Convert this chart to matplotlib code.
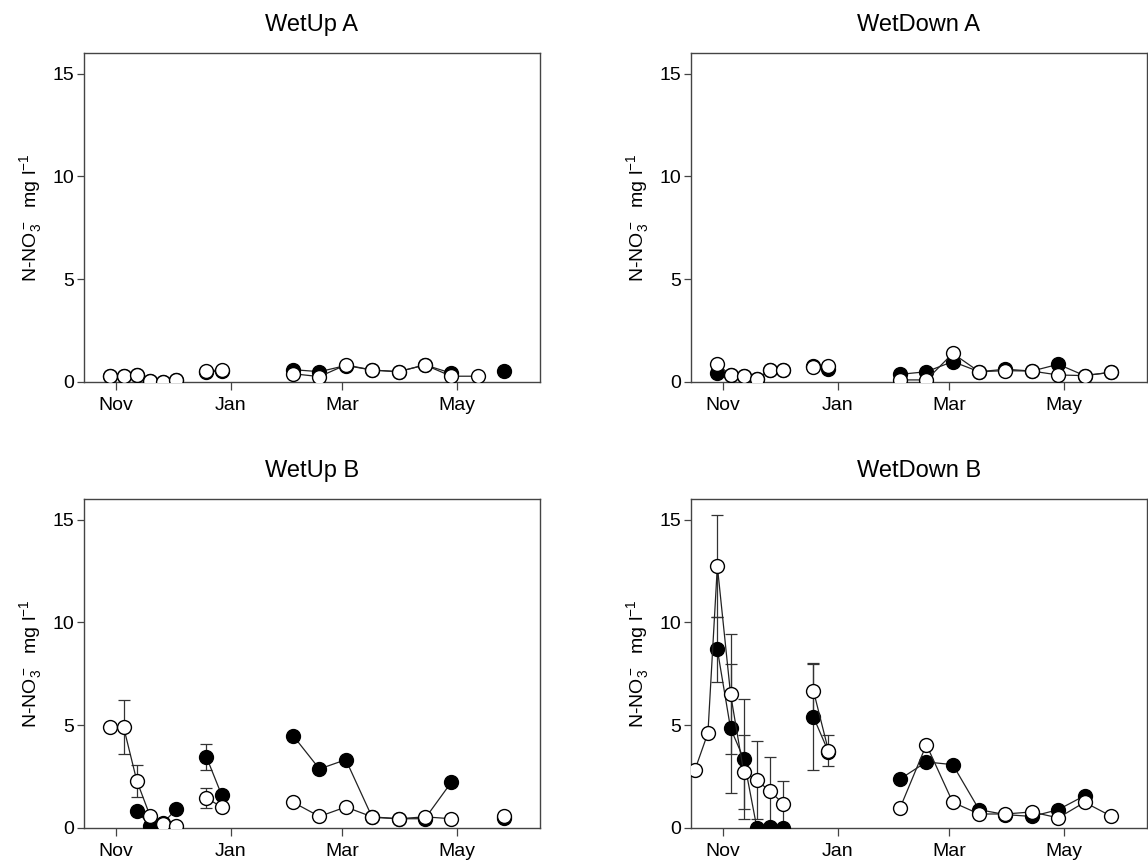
import matplotlib
matplotlib.use('Agg')
import matplotlib.pyplot as plt
import matplotlib.dates as mdates
import numpy as np

plt.rcParams['font.family'] = ['Liberation Sans', 'DejaVu Sans']
plt.rcParams['mathtext.default'] = 'regular'

# sampling dates (shared by all four sites) and the period each belongs to
dates = ['2010-10-17', '2010-10-24', '2010-10-29', '2010-11-05', '2010-11-12',
         '2010-11-19', '2010-11-26', '2010-12-03', '2010-12-19', '2010-12-27',
         '2011-02-03', '2011-02-17', '2011-03-03', '2011-03-17', '2011-03-31',
         '2011-04-14', '2011-04-28', '2011-05-12', '2011-05-26']
period = [0, 0, 0, 0, 0, 0, 0, 0, 1, 1, 2, 2, 2, 2, 2, 2, 2, 2, 2]

titles = ['WetUp A', 'WetDown A', 'WetUp B', 'WetDown B']

N = None
wetup_a_filled = [N, N, 0.30, 0.30, 0.32, 0.05, 0.02, 0.10, 0.50, 0.52,
                  0.60, 0.50, 0.80, 0.58, 0.50, 0.83, 0.43, N, 0.54]
wetup_a_open = [N, N, 0.31, 0.31, 0.34, 0.05, 0.01, 0.10, 0.55, 0.58,
                0.40, 0.26, 0.83, 0.58, 0.50, 0.83, 0.28, 0.28, N]

wetdown_a_filled = [N, N, 0.42, 0.34, 0.31, 0.13, 0.58, 0.58, 0.80, 0.62,
                    0.37, 0.50, 0.99, 0.50, 0.62, 0.53, 0.86, 0.31, 0.47]
wetdown_a_open = [N, N, 0.86, 0.34, 0.31, 0.13, 0.58, 0.58, 0.75, 0.78,
                  0.10, 0.10, 1.39, 0.50, 0.55, 0.53, 0.34, 0.31, 0.47]

wetup_b_filled = [N, N, N, N, 0.84, 0.11, 0.24, 0.92, 3.45, 1.62,
                  4.49, 2.87, 3.32, 0.52, 0.45, 0.45, 2.22, N, 0.47]
wetup_b_filled_err = [N, N, N, N, N, N, N, N, 0.65, N,
                      N, N, N, N, N, N, N, N, N]
wetup_b_open = [N, N, 4.91, 4.91, 2.30, 0.60, 0.19, 0.08, 1.46, 1.02,
                1.25, 0.56, 1.02, 0.54, 0.45, 0.54, 0.45, N, 0.56]
wetup_b_open_err = [N, N, N, 1.30, 0.77, N, N, N, 0.47, N,
                    N, N, N, N, N, N, N, N, N]

wetdown_b_filled = [N, N, 8.68, 4.85, 3.36, 0.00, 0.05, 0.00, 5.40, 3.70,
                    2.38, 3.21, 3.08, 0.89, 0.65, 0.56, 0.89, 1.57, N]
wetdown_b_filled_err = [N, N, 1.60, 3.13, 2.90, N, N, N, 2.60, N,
                        N, N, N, N, N, N, N, N, N]
wetdown_b_open = [2.80, 4.62, 12.73, 6.52, 2.71, 2.32, 1.78, 1.18, 6.68, 3.76,
                  0.97, 4.05, 1.25, 0.68, 0.68, 0.78, 0.49, 1.25, 0.58]
wetdown_b_open_err = [N, N, 2.47, 2.93, 1.80, 1.90, 1.67, 1.09, 1.30, 0.74,
                      N, N, N, N, N, N, N, N, N]

panels = [
    (wetup_a_filled, None, wetup_a_open, None),
    (wetdown_a_filled, None, wetdown_a_open, None),
    (wetup_b_filled, wetup_b_filled_err, wetup_b_open, wetup_b_open_err),
    (wetdown_b_filled, wetdown_b_filled_err, wetdown_b_open, wetdown_b_open_err),
]

x = np.array(dates, dtype='datetime64[D]')
per = np.array(period)


def arr(vals):
    return np.array([np.nan if v is None else v for v in vals], dtype=float)


def draw_series(ax, vals, err, face):
    y = arr(vals)
    for p in np.unique(per):
        m = per == p
        ax.plot(x[m], y[m], color='#222222', lw=0.9, marker='o', ms=10,
                mfc=face, mec='black', mew=1.0, zorder=3 if face == 'black' else 4)
    if err is not None:
        e = arr(err)
        ok = ~np.isnan(e) & ~np.isnan(y)
        ax.errorbar(x[ok], y[ok], yerr=e[ok], fmt='none', ecolor='#333333',
                    elinewidth=0.9, capsize=4, capthick=0.9, zorder=2)


fig = plt.figure(figsize=(11.48, 8.64), dpi=100)
lefts = [0.0732, 0.6019, 0.0732, 0.6019]
bottoms = [0.5579, 0.5579, 0.0417, 0.0417]

for i, (filled, ferr, opn, oerr) in enumerate(panels):
    ax = fig.add_axes([lefts[i], bottoms[i], 0.397, 0.3808])
    draw_series(ax, filled, ferr, 'black')
    draw_series(ax, opn, oerr, 'white')
    ax.set_xlim(np.datetime64('2010-10-15'), np.datetime64('2011-06-14'))
    ax.set_ylim(0, 16)
    ax.set_yticks([0, 5, 10, 15])
    ax.xaxis.set_major_locator(mdates.MonthLocator(bymonth=[11, 1, 3, 5]))
    ax.xaxis.set_major_formatter(mdates.DateFormatter('%b'))
    ax.tick_params(axis='y', labelsize=14, length=5, width=0.9, pad=2, color='#444444')
    ax.tick_params(axis='x', labelsize=14, length=6, width=0.9, pad=5, color='#444444')
    for s in ax.spines.values():
        s.set_color('#444444')
        s.set_linewidth(1.0)
    ax.set_title(titles[i], fontsize=17, pad=16)
    ax.set_ylabel(r'N-NO$_3^-$  mg l$^{-1}$', fontsize=14, labelpad=6)

fig.savefig('out.png', dpi=100)
